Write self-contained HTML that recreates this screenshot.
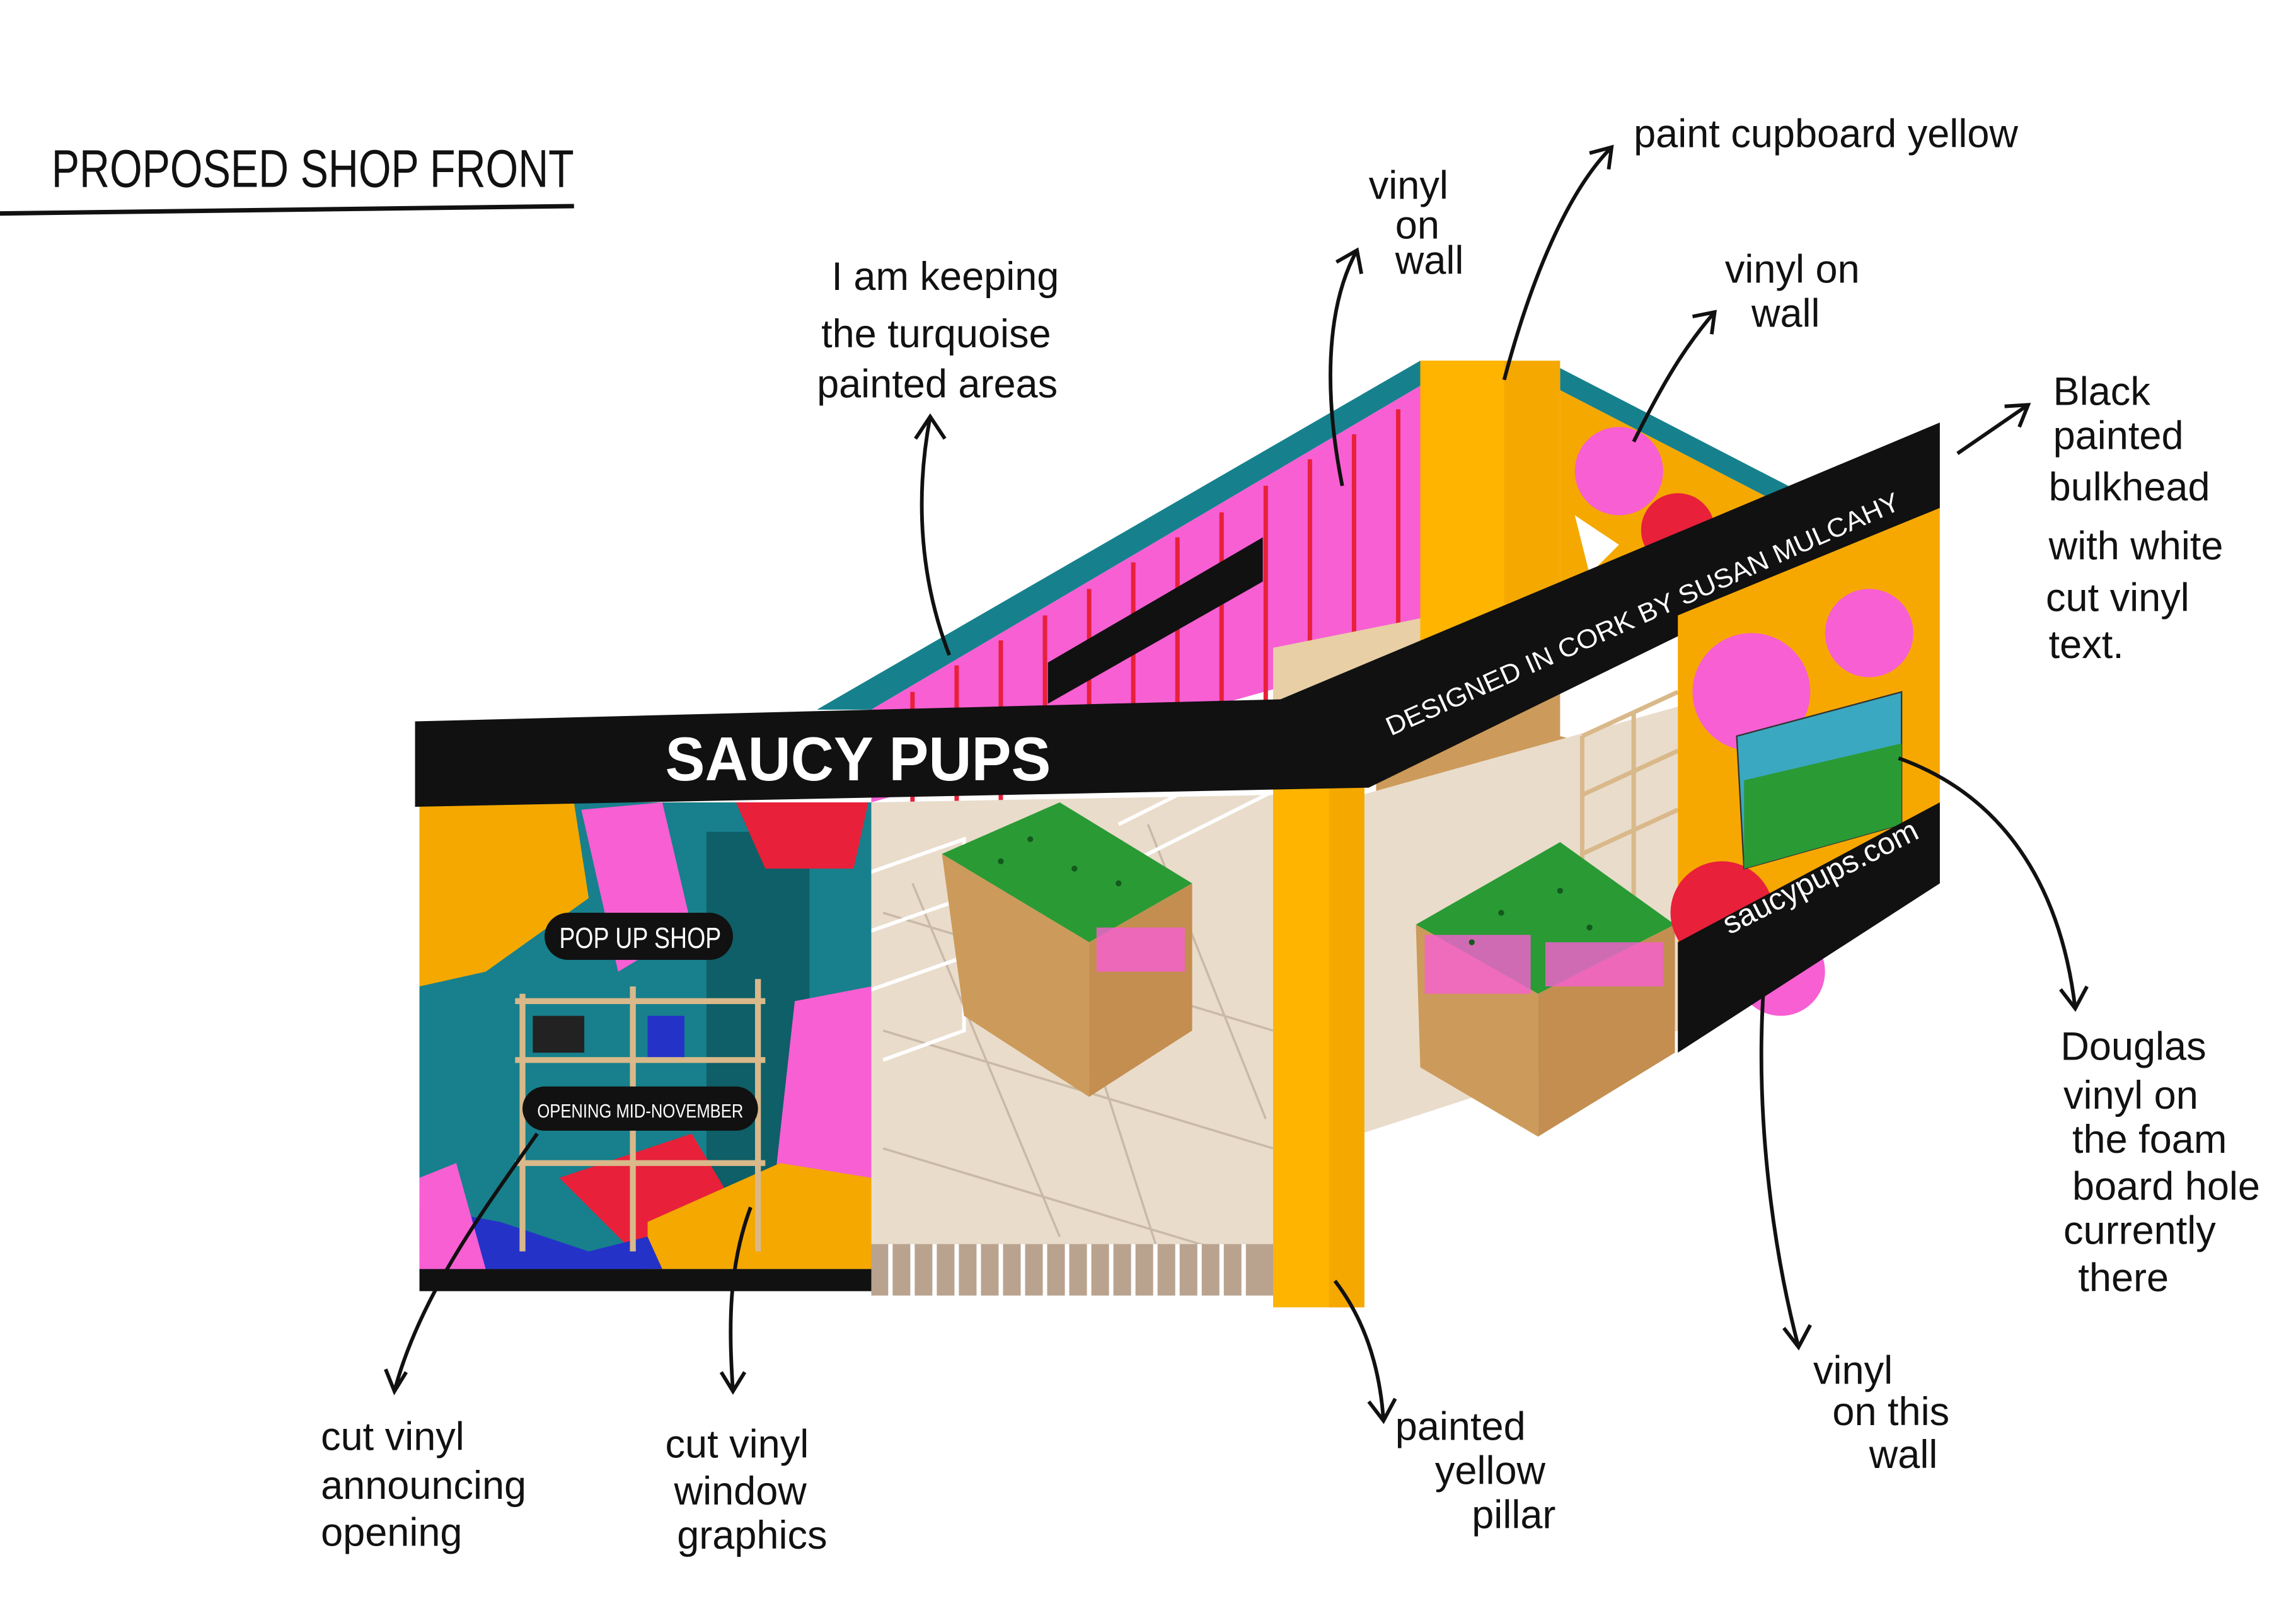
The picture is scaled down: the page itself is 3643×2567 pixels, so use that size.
<!DOCTYPE html>
<html><head><meta charset="utf-8"><style>
html,body{margin:0;padding:0;background:#fff;}
svg{display:block;}
text{font-family:"Liberation Sans",sans-serif;fill:#111;}
.h{font-size:27px;}
</style></head><body>
<svg width="3643" height="2567" viewBox="0 0 1560 1099" preserveAspectRatio="none" xmlns="http://www.w3.org/2000/svg">
<rect width="1560" height="1099" fill="#fff"/>
<text x="35" y="127" font-size="36" textLength="355" lengthAdjust="spacingAndGlyphs">PROPOSED SHOP FRONT</text>
<path d="M0 145 L390 140" stroke="#111" stroke-width="3"/>

<polygon points="555,482 965,245 965,262 592,482" fill="#16818d"/>
<polygon points="1060,250 1215,330 1215,345 1060,265" fill="#16818d"/>
<polygon points="592,482 965,262 965,440 592,545" fill="#f75fd3"/>
<g stroke="#e8203a" stroke-width="3">
<path d="M620,470 L620,545 M650,452 L650,545 M680,435 L680,545 M710,418 L710,530 M740,400 L740,520 M770,382 L770,510 M800,365 L800,500 M830,348 L830,490 M860,330 L860,480 M890,312 L890,470 M920,295 L920,460 M950,278 L950,450"/>
</g>
<polygon points="712,450 858,365 858,395 712,478" fill="#111"/>
<polygon points="865,440 965,420 1060,440 1060,470 930,535 865,540" fill="#e8cfa5"/>
<rect x="935" y="470" width="130" height="120" fill="#cc9a5a"/>
<polygon points="1060,400 1140,420 1140,520 1060,500" fill="#fff"/>
<rect x="965" y="245" width="95" height="195" fill="#f5a800"/>
<rect x="965" y="245" width="57" height="195" fill="#ffb400"/>
<polygon points="1060,265 1215,345 1215,390 1060,460" fill="#f5a800"/>
<circle cx="1100" cy="320" r="30" fill="#f75fd3"/><circle cx="1140" cy="360" r="25" fill="#e8203a"/>
<path d="M1070 350 L1100 370 L1080 390 Z" fill="#fff"/>
<polygon points="592,545 865,540 865,880 592,845" fill="#e9dccb"/>
<g stroke="#c9b9a6" stroke-width="1.5">
<path d="M600,620 L865,700 M600,700 L865,780 M600,780 L865,860 M620,600 L720,840 M700,580 L790,860 M780,560 L860,760"/>
</g>
<rect x="592" y="845" width="273" height="35" fill="#b9a38f"/>
<g stroke="#fff" stroke-width="3"><path d="M605,845 v35 M620,845 v35 M635,845 v35 M650,845 v35 M665,845 v35 M680,845 v35 M695,845 v35 M710,845 v35 M725,845 v35 M740,845 v35 M755,845 v35 M770,845 v35 M785,845 v35 M800,845 v35 M815,845 v35 M830,845 v35 M845,845 v35"/></g>
<polygon points="925,540 1140,480 1140,700 925,770" fill="#e9dccb"/>
<g stroke="#fff" stroke-width="2.5" fill="none">
<path d="M570,600 L655,570 L655,700 L600,720 M570,640 L655,610 M570,680 L655,650 M760,560 L880,500 L880,540 M760,590 L880,530"/>
</g>
<g stroke="#d9b88a" stroke-width="3" fill="none"><path d="M1075,500 L1140,470 M1075,540 L1140,510 M1075,580 L1140,550 M1075,500 V640 M1110,485 V620"/></g>
<polygon points="640,580 720,545 810,600 740,640" fill="#2a9a35"/>
<polygon points="640,580 740,640 740,745 655,690" fill="#cc9a5a"/>
<polygon points="740,640 810,600 810,700 740,745" fill="#c48e50"/>
<rect x="745" y="630" width="60" height="30" fill="#f75fd3" opacity=".8"/>
<polygon points="962,628 1060,572 1138,628 1045,675" fill="#2a9a35"/>
<polygon points="962,628 1045,675 1045,772 965,725" fill="#cc9a5a"/>
<polygon points="1045,675 1138,628 1138,715 1045,772" fill="#c48e50"/>
<rect x="968" y="635" width="72" height="40" fill="#f75fd3" opacity=".8"/>
<rect x="1050" y="640" width="80" height="30" fill="#f75fd3" opacity=".8"/>
<g fill="#135a1c"><circle cx="700" cy="570" r="2"/><circle cx="730" cy="590" r="2"/><circle cx="760" cy="600" r="2"/><circle cx="680" cy="585" r="2"/><circle cx="1020" cy="620" r="2"/><circle cx="1060" cy="605" r="2"/><circle cx="1080" cy="630" r="2"/><circle cx="1000" cy="640" r="2"/></g>
<rect x="865" y="535" width="62" height="353" fill="#ffb400"/>
<rect x="903" y="535" width="24" height="353" fill="#f5a800"/>
<rect x="285" y="545" width="307" height="320" fill="#17808c"/>
<rect x="480" y="565" width="70" height="290" fill="#0e5f67"/>
<path d="M285 545 L390 545 L400 610 L330 660 L285 670 Z" fill="#f5a800"/>
<path d="M395 550 L450 545 L470 630 L420 660 Z" fill="#f75fd3"/>
<path d="M500 545 L590 545 L580 590 L520 590 Z" fill="#e8203a"/>
<path d="M540 680 L592 670 L592 860 L520 860 Z" fill="#f75fd3"/>
<path d="M380 800 L470 770 L500 820 L430 850 Z" fill="#e8203a"/>
<path d="M440 830 L530 790 L592 800 L592 862 L440 862 Z" fill="#f5a800"/>
<path d="M285 820 L340 830 L400 850 L440 840 L450 862 L285 862 Z" fill="#2532c8"/>
<path d="M285 800 L310 790 L330 862 L285 862 Z" fill="#f75fd3"/>
<g stroke="#d9b88a" stroke-width="4" fill="none"><path d="M350 680 H520 M350 720 H520 M350 790 H520 M355 675 V850 M430 670 V850 M515 665 V850"/></g>
<rect x="362" y="690" width="35" height="25" fill="#222"/>
<rect x="440" y="690" width="25" height="28" fill="#2532c8"/>
<rect x="285" y="862" width="307" height="15" fill="#111"/>
<rect x="370" y="620" width="128" height="32" rx="16" fill="#111"/>
<text x="380" y="644" font-size="20" textLength="110" lengthAdjust="spacingAndGlyphs" style="fill:#fff">POP UP SHOP</text>
<rect x="355" y="738" width="160" height="30" rx="15" fill="#111"/>
<text x="365" y="759" font-size="13" textLength="140" lengthAdjust="spacingAndGlyphs" style="fill:#fff">OPENING MID-NOVEMBER</text>
<polygon points="282,490 870,475 1318,287 1318,345 930,535 282,548" fill="#111"/>
<text x="452" y="530" font-size="42" font-weight="bold" textLength="262" lengthAdjust="spacingAndGlyphs" style="fill:#fff">SAUCY PUPS</text>
<text transform="translate(945,500) rotate(-24)" font-size="18" textLength="380" lengthAdjust="spacingAndGlyphs" style="fill:#fff">DESIGNED IN CORK BY SUSAN MULCAHY</text>
<polygon points="1140,418 1318,345 1318,600 1140,700" fill="#f7a800"/>
<circle cx="1190" cy="470" r="40" fill="#f75fd3"/><circle cx="1270" cy="430" r="30" fill="#f75fd3"/>
<circle cx="1170" cy="620" r="35" fill="#e8203a"/><circle cx="1210" cy="660" r="30" fill="#f75fd3"/>
<polygon points="1180,500 1292,470 1292,560 1185,590" fill="#3aa8c0" stroke="#333" stroke-width="1"/>
<polygon points="1185,530 1292,505 1292,560 1185,590" fill="#2a9a35"/>
<polygon points="1140,640 1318,545 1318,600 1140,715" fill="#111"/>
<text transform="translate(1175,635) rotate(-27)" font-size="21" style="fill:#fff">saucypups.com</text>
<g class="h">
<text x="565" y="197">I am keeping</text>
<text x="558" y="236">the turquoise</text>
<text x="555" y="270">painted areas</text>
<text x="930" y="135">vinyl</text><text x="948" y="162">on</text><text x="948" y="186">wall</text>
<text x="1110" y="100">paint cupboard yellow</text>
<text x="1172" y="192">vinyl on</text><text x="1190" y="222">wall</text>
<text x="1395" y="275">Black</text><text x="1395" y="305">painted</text><text x="1392" y="340">bulkhead</text><text x="1392" y="380">with white</text><text x="1390" y="415">cut vinyl</text><text x="1392" y="447">text.</text>
<text x="1400" y="720">Douglas</text><text x="1402" y="753">vinyl on</text><text x="1408" y="783">the foam</text><text x="1408" y="815">board hole</text><text x="1402" y="845">currently</text><text x="1412" y="877">there</text>
<text x="1232" y="940">vinyl</text><text x="1245" y="968">on this</text><text x="1270" y="997">wall</text>
<text x="948" y="978">painted</text><text x="975" y="1008">yellow</text><text x="1000" y="1038">pillar</text>
<text x="452" y="990">cut vinyl</text><text x="458" y="1022">window</text><text x="460" y="1052">graphics</text>
<text x="218" y="985">cut vinyl</text><text x="218" y="1018">announcing</text><text x="218" y="1050">opening</text>
</g>
<g stroke="#111" stroke-width="2.5" fill="none">
<path d="M645 445 C620 380 625 320 632 283 M622 298 L632 283 L642 298"/>
<path d="M912 330 C900 270 900 210 922 170 M908 178 L922 170 L925 186"/>
<path d="M1022 258 C1040 190 1065 130 1095 100 M1080 104 L1095 100 L1093 115"/>
<path d="M1110 300 C1130 260 1145 235 1165 212 M1150 215 L1165 212 L1163 227"/>
<path d="M1330 308 L1378 275 M1362 276 L1378 275 L1372 290"/>
<path d="M1290 515 C1360 540 1400 600 1410 685 M1400 672 L1410 685 L1418 670"/>
<path d="M1200 650 C1190 750 1205 850 1222 915 M1212 902 L1222 915 L1230 900"/>
<path d="M907 870 C930 900 938 935 940 965 M930 952 L940 965 L948 950"/>
<path d="M510 820 C495 860 495 900 498 945 M490 932 L498 945 L506 932"/>
<path d="M365 770 C330 820 285 880 268 945 M262 930 L268 945 L276 932"/>
</g>
</svg>
</body></html>
